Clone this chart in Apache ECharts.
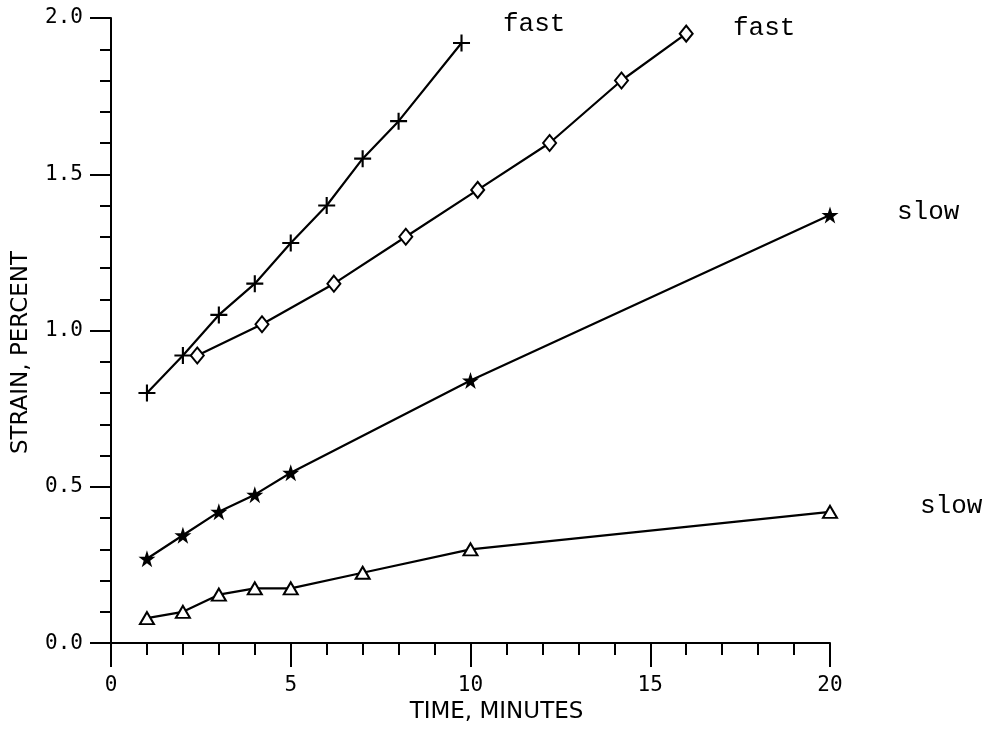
<!DOCTYPE html>
<html>
<head>
<meta charset="utf-8">
<script src="https://cdn.jsdelivr.net/npm/echarts@6/dist/echarts.min.js"></script>
<style>
  html, body { margin: 0; padding: 0; background: #fff; }
  #chart { width: 988px; height: 729px; }
</style>
</head>
<body>
<div id="chart"></div>
<script>
// Creep strain vs. time, four loading runs (two fast, two slow)
const fastPlusTime    = [1, 2, 3, 4, 5, 6, 7, 8, 9.75];
const fastPlusStrain  = [0.80, 0.92, 1.05, 1.15, 1.28, 1.40, 1.55, 1.67, 1.92];

const fastDiamondTime   = [2.4, 4.2, 6.2, 8.2, 10.2, 12.2, 14.2, 16];
const fastDiamondStrain = [0.92, 1.02, 1.15, 1.30, 1.45, 1.60, 1.80, 1.95];

const slowStarTime   = [1, 2, 3, 4, 5, 10, 20];
const slowStarStrain = [0.27, 0.345, 0.42, 0.475, 0.545, 0.84, 1.37];

const slowTriTime   = [1, 2, 3, 4, 5, 7, 10, 20];
const slowTriStrain = [0.08, 0.10, 0.155, 0.175, 0.175, 0.225, 0.30, 0.42];

const xTicks = [0, 5, 10, 15, 20];
const yTicks = [0.0, 0.5, 1.0, 1.5, 2.0];

const annotations = [
  { text: 'fast', x: 503, y: 24 },
  { text: 'fast', x: 733, y: 28 },
  { text: 'slow', x: 897, y: 212 },
  { text: 'slow', x: 920, y: 506 }
];

const pairs = (xs, ys) => xs.map((x, i) => [x, ys[i]]);

const INK = '#000';
const plusPath = 'path://M7,0H9V16H7Z M0,7H16V9H0Z';
const starPath = 'path://M50,0 L61.8,35.1 L98.9,35.1 L68.9,56.8 L80.3,91.9 L50,70.2 L19.7,91.9 L31.1,56.8 L1.1,35.1 L38.2,35.1 Z';

function lineSeries(name, data, symbol, size, hollow) {
  return {
    name: name,
    type: 'line',
    data: data,
    symbol: symbol,
    symbolSize: size,
    showAllSymbol: true,
    lineStyle: { color: INK, width: 2.2 },
    itemStyle: hollow
      ? { color: '#fff', borderColor: INK, borderWidth: 2 }
      : { color: INK, borderWidth: 0 },
    emphasis: { disabled: true },
    z: 3
  };
}

const chart = echarts.init(document.getElementById('chart'), null, { renderer: 'canvas' });

chart.setOption({
  animation: false,
  backgroundColor: '#fff',
  grid: { left: 111, right: 158, top: 18, bottom: 84 },
  xAxis: {
    type: 'value',
    min: xTicks[0],
    max: xTicks[xTicks.length - 1],
    interval: 5,
    name: 'TIME, MINUTES',
    nameLocation: 'middle',
    nameGap: 55,
    nameTextStyle: { fontFamily: 'DejaVu Sans', fontSize: 23, color: INK, padding: [0, 0, 0, 52] },
    axisLine: { lineStyle: { color: INK, width: 2 } },
    axisTick: { show: true, length: 24, lineStyle: { color: INK, width: 2 } },
    minorTick: { show: true, splitNumber: 5, length: 12, lineStyle: { color: INK, width: 2 } },
    splitLine: { show: false },
    axisLabel: {
      margin: 32,
      fontFamily: 'DejaVu Sans Mono',
      fontSize: 21,
      color: INK,
      formatter: v => String(v)
    }
  },
  yAxis: {
    type: 'value',
    min: yTicks[0],
    max: yTicks[yTicks.length - 1],
    interval: 0.5,
    name: 'STRAIN, PERCENT',
    nameLocation: 'middle',
    nameGap: 78,
    nameRotate: 90,
    nameTextStyle: { fontFamily: 'DejaVu Sans', fontSize: 23, color: INK, padding: [0, 44, 0, 0] },
    axisLine: { show: true, lineStyle: { color: INK, width: 2 } },
    axisTick: { show: true, length: 21, lineStyle: { color: INK, width: 2 } },
    minorTick: { show: true, splitNumber: 5, length: 11, lineStyle: { color: INK, width: 2 } },
    splitLine: { show: false },
    axisLabel: {
      margin: 28,
      fontFamily: 'DejaVu Sans Mono',
      fontSize: 21,
      color: INK,
      formatter: v => v.toFixed(1)
    }
  },
  series: [
    lineSeries('fast +', pairs(fastPlusTime, fastPlusStrain), plusPath, 17, false),
    lineSeries('fast diamond', pairs(fastDiamondTime, fastDiamondStrain), 'diamond', [13, 16], true),
    lineSeries('slow star', pairs(slowStarTime, slowStarStrain), starPath, 17, false),
    lineSeries('slow triangle', pairs(slowTriTime, slowTriStrain), 'triangle', [14, 12], true)
  ],
  graphic: annotations.map(a => ({
    type: 'text',
    x: a.x,
    y: a.y,
    style: {
      text: a.text,
      fill: INK,
      font: '26px "Liberation Mono"',
      textAlign: 'left',
      textVerticalAlign: 'middle'
    }
  }))
});
</script>
</body>
</html>
